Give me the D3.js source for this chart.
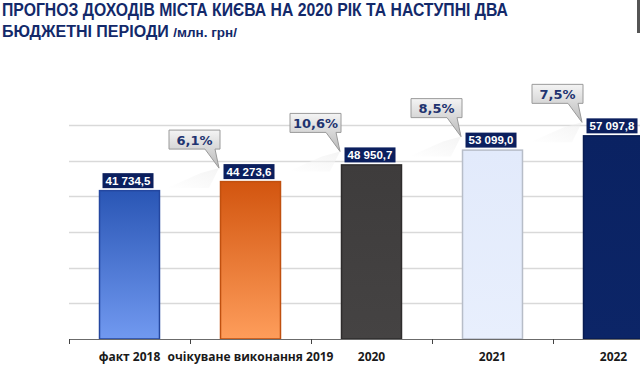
<!DOCTYPE html>
<html>
<head>
<meta charset="utf-8">
<script src="https://cdn.jsdelivr.net/npm/d3@7"></script>
<style>
  body { margin: 0; background: #fff; }
  svg { display: block; }
</style>
</head>
<body>
<div id="chart"></div>
<script>
// chart data
const categories = ['факт 2018', 'очікуване виконання 2019', '2020', '2021', '2022'];
const values = [41734.5, 44273.6, 48950.7, 53099.0, 57097.8];
const growth = [null, 6.1, 10.6, 8.5, 7.5];
const yTicks = [0, 10000, 20000, 30000, 40000, 50000, 60000];

const barColors = [
    ['#2a56b5', '#7199f0'],
    ['#d2550f', '#fe9d5b'],
    ['#3e3c3c', '#454343'],
    ['#e2eafb', '#e8effd'],
    ['#0a2262', '#0c2567']
];
const barStrokes = ['#2447a0', '#c0500f', '#2e2c2c', '#b7bdc8', '#081c52'];

const W = 640, H = 365;

const svg = d3.select('#chart').append('svg')
    .attr('width', W)
    .attr('height', H);

const defs = svg.append('defs');

let x = d3.scaleBand()
    .domain(categories)
    .range([69, 674])
    .paddingInner(0.496)
    .paddingOuter(0.248);

let y = d3.scaleLinear()
    .domain([0, 60000])
    .range([339, 125]);

const ukr = d3.formatLocale({decimal: ',', thousands: ' ', grouping: [3], currency: ['', '']});
const fmtVal = ukr.format(',.1f');
const fmtPct = ukr.format('.1f');

// title
const titleColor = '#13296a';
svg.append('text')
    .attr('x', 2).attr('y', 16)
    .attr('textLength', 506).attr('lengthAdjust', 'spacingAndGlyphs')
    .style('font', 'bold 17.5px "Liberation Sans"')
    .attr('fill', titleColor)
    .text('ПРОГНОЗ ДОХОДІВ МІСТА КИЄВА НА 2020 РІК ТА НАСТУПНІ ДВА');
let t2 = svg.append('text')
    .attr('x', 2).attr('y', 37)
    .style('font', 'bold 16px "Liberation Sans"')
    .attr('fill', titleColor);
t2.append('tspan').text('БЮДЖЕТНІ ПЕРІОДИ ');
t2.append('tspan')
    .style('font-size', '13.5px')
    .text('/млн. грн/');

// little edge mark top right
svg.append('rect').attr('x', 637).attr('y', 0).attr('width', 3).attr('height', 33).attr('fill', '#555');

// gridlines
let grid = svg.append('g').attr('class', 'grid');
grid.selectAll('line')
    .data(yTicks.filter(t => t > 0))
    .enter().append('line')
    .attr('x1', 69).attr('x2', W)
    .attr('y1', d => Math.round(y(d)) + 0.5)
    .attr('y2', d => Math.round(y(d)) + 0.5)
    .attr('stroke', '#d9d9d9')
    .attr('stroke-width', 1.5);

// gradients for bars
barColors.forEach((c, i) => {
    let g = defs.append('linearGradient')
        .attr('id', 'bar' + i)
        .attr('x1', 0).attr('y1', 0).attr('x2', 0).attr('y2', 1);
    g.append('stop').attr('offset', '0%').attr('stop-color', c[0]);
    g.append('stop').attr('offset', '100%').attr('stop-color', c[1]);
});

let callGrad = defs.append('linearGradient')
    .attr('id', 'callout').attr('x1', 0).attr('y1', 0).attr('x2', 0).attr('y2', 1);
callGrad.append('stop').attr('offset', '0%').attr('stop-color', '#f4f4f4');
callGrad.append('stop').attr('offset', '100%').attr('stop-color', '#b9b9b9');

let shadowGrad = defs.append('linearGradient')
    .attr('id', 'shade').attr('x1', 1).attr('y1', 0).attr('x2', 0).attr('y2', 1);
shadowGrad.append('stop').attr('offset', '0%').attr('stop-color', '#ececec');
shadowGrad.append('stop').attr('offset', '100%').attr('stop-color', '#ffffff');

// faint reflections under the callout tails
let rows = categories.map((c, i) => ({cat: c, value: values[i], growth: growth[i], i: i}));

svg.append('g').selectAll('path')
    .data(rows.filter(d => d.growth !== null))
    .enter().append('path')
    .attr('d', d => {
        let tx = x(d.cat) - 1, ty = y(d.value) - 13;
        return `M${tx},${ty} L${tx - 10},${ty + 20} L${tx - 52},${ty + 20} L${tx - 18},${ty + 5} Z`;
    })
    .attr('fill', 'url(#shade)')
    .attr('opacity', 0.55);

// bars
svg.append('g').selectAll('rect')
    .data(rows)
    .enter().append('rect')
    .attr('x', d => x(d.cat) + 0.5)
    .attr('y', d => y(d.value) + 0.5)
    .attr('width', x.bandwidth() - 1)
    .attr('height', d => y(0) - y(d.value) - 0.5)
    .attr('fill', d => 'url(#bar' + d.i + ')')
    .attr('stroke', d => barStrokes[d.i])
    .attr('stroke-width', 1.5);

// x axis
let axis = svg.append('g');
axis.append('line')
    .attr('x1', 69).attr('x2', W)
    .attr('y1', 339.5).attr('y2', 339.5)
    .attr('stroke', '#6b6b6b').attr('stroke-width', 1.2);
let step = x.step();
axis.selectAll('.tick')
    .data(categories)
    .enter().append('line')
    .attr('class', 'tick')
    .attr('x1', d => Math.round(x(d) - step * x.paddingInner() / 2) + 0.5)
    .attr('x2', d => Math.round(x(d) - step * x.paddingInner() / 2) + 0.5)
    .attr('y1', 339).attr('y2', 344)
    .attr('stroke', '#444');
axis.selectAll('text')
    .data(categories)
    .enter().append('text')
    .attr('x', d => x(d) + x.bandwidth() / 2)
    .attr('y', 361)
    .attr('text-anchor', 'middle')
    .style('font', 'bold 12px "Open Sans"')
    .attr('fill', '#1a1a1a')
    .text(d => d);

// value labels
let lab = svg.append('g').selectAll('g')
    .data(rows)
    .enter().append('g')
    .attr('transform', d => `translate(${x(d.cat) + 3.5},${y(d.value) - 17})`);
lab.append('rect')
    .attr('width', 51).attr('height', 15)
    .attr('fill', '#0b1f5e');
lab.append('text')
    .attr('x', 25.5).attr('y', 11.5)
    .attr('text-anchor', 'middle')
    .style('font', 'bold 11.5px "Liberation Sans"')
    .attr('fill', '#fff')
    .text(d => fmtVal(d.value));

// growth callouts
let call = svg.append('g').selectAll('g')
    .data(rows.filter(d => d.growth !== null))
    .enter().append('g');
call.append('path')
    .attr('d', d => {
        let x0 = x(d.cat), t = y(d.value);
        let bx = x0 - 51, by = t - 51, bw = 51, bh = 19;
        let tx = x0 - 1, ty = t - 13;
        return `M${bx},${by} H${bx + bw} V${by + bh} H${bx + bw - 5} L${tx},${ty} L${bx + bw - 15},${by + bh} H${bx} Z`;
    })
    .attr('fill', 'url(#callout)')
    .attr('stroke', '#9a9a9a')
    .attr('stroke-width', 1);
call.append('text')
    .attr('x', d => x(d.cat) - 25.5)
    .attr('y', d => y(d.value) - 36.5)
    .attr('text-anchor', 'middle')
    .style('font', 'bold 13px "DejaVu Sans"')
    .attr('fill', '#1f3470')
    .text(d => fmtPct(d.growth) + '%');
</script>
</body>
</html>
